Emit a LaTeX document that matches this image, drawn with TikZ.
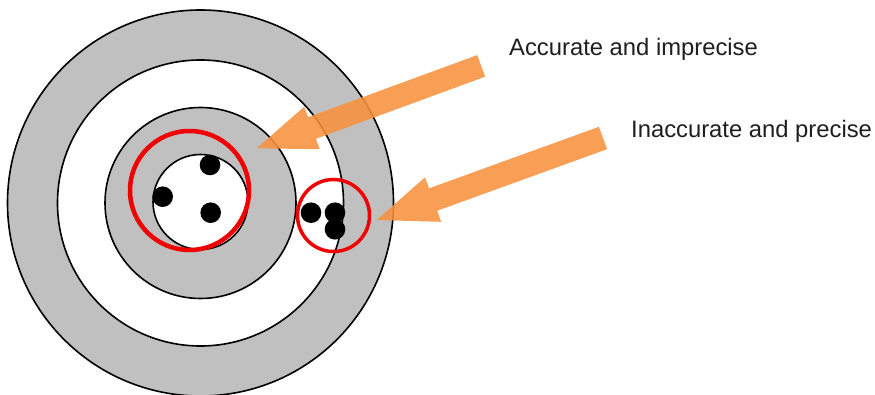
\documentclass[tikz,border=0pt]{standalone}
\usepackage{fontspec}
\setmainfont{Liberation Sans}
\usetikzlibrary{calc}

\definecolor{ringgray}{RGB}{192,192,192}
\definecolor{hitred}{RGB}{240,0,0}
\definecolor{arroworange}{RGB}{248,145,62}
\definecolor{labelink}{RGB}{30,30,30}

\tikzset{
  ring/.style={draw=black, line width=1.6pt},
  hit/.style={fill=black},
  cluster/.style={draw=hitred, line width=#1},
  arrowfill/.style={fill=arroworange, fill opacity=0.88},
  caption/.style={text=labelink, inner sep=0pt, font=\fontsize{23.8}{28}\selectfont},
}

% block arrow: tail, tip, head length, shaft half width, head half width
\newcommand{\blockarrowdraw}[5]{%
  \coordinate (hb) at ($(#2)!#3!(#1)$);
  \fill[arrowfill]
    ($(#1)!#4!90:(#2)$) -- ($(hb)!#4!-90:(#1)$) -- ($(hb)!#5!-90:(#1)$) --
    (#2) --
    ($(hb)!#5!90:(#1)$) -- ($(hb)!#4!90:(#1)$) -- ($(#1)!#4!-90:(#2)$) -- cycle;
}

\begin{document}
\begin{tikzpicture}[x=1pt,y=-1pt]
  \useasboundingbox (0,0) rectangle (875,395);
  \clip (0,0) rectangle (875,395);

  % target rings
  \coordinate (c) at (200.5,203);
  \filldraw[ring, fill=ringgray] (c) circle (193);
  \filldraw[ring, fill=white]    (c) circle (143);
  \filldraw[ring, fill=ringgray] (c) circle (95.5);
  \filldraw[ring, fill=white]    (200.5,202) circle (47.5);

  % shots near the centre
  \fill[hit] (210,165) circle (10.3);
  \fill[hit] (162.7,196.7) circle (10.3);
  \fill[hit] (210.7,212.7) circle (10.3);

  % tight group off to the side
  \fill[hit] (311,212.7) circle (10.3);
  \fill[hit] (335,212.7) circle (10.3);
  \fill[hit] (335,229.3) circle (10.3);

  % groupings
  \draw[cluster=4.5pt] (189.5,190.5) circle (59.5);
  \draw[cluster=3.5pt] (333.5,215.5) circle (36);

  % pointers
  \coordinate (a1tail) at (481.2,65.9);
  \coordinate (a1tip)  at (256.7,148.3);
  \blockarrowdraw{a1tail}{a1tip}{58.9pt}{11.5pt}{22.6pt}

  \coordinate (a2tail) at (603,138);
  \coordinate (a2tip)  at (376.7,220);
  \blockarrowdraw{a2tail}{a2tip}{60pt}{11.9pt}{23.7pt}

  % labels
  \node[caption, anchor=base west] (lab1) at (509,56)  {Accurate and imprecise};
  \node[caption, anchor=base west] (lab2) at (631,138) {Inaccurate and precise};
\end{tikzpicture}
\end{document}
